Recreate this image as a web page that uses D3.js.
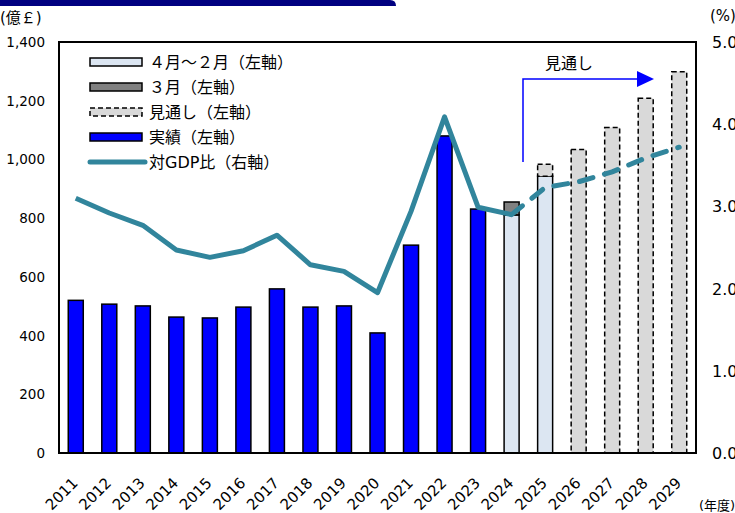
<!DOCTYPE html>
<html>
<head>
<meta charset="utf-8">
<script src="https://cdn.jsdelivr.net/npm/d3@7"></script>
<style>
  body { margin: 0; background: #fff; }
  text { font-family: "DejaVu Sans", "Noto Sans CJK JP", sans-serif; }
</style>
</head>
<body>
<script>
let w = 735;
let h = 513;

let years = ["2011","2012","2013","2014","2015","2016","2017","2018","2019","2020",
             "2021","2022","2023","2024","2025","2026","2027","2028","2029"];
// 実績
let actual = [520, 507, 501, 463, 460, 497, 559, 497, 501, 409, 708, 1080, 831,
              null, null, null, null, null, null];
// 4月～2月
let aprFeb = [null, null, null, null, null, null, null, null, null, null, null, null, null,
              811, 943, null, null, null, null];
// 3月
let march = [null, null, null, null, null, null, null, null, null, null, null, null, null,
             44, null, null, null, null, null];
// 見通し
let outlook = [null, null, null, null, null, null, null, null, null, null, null, null, null,
               null, 41, 1034, 1109, 1208, 1299];
// 対GDP比 (%)
let gdpRatio = [3.10, 2.92, 2.77, 2.47, 2.38, 2.46, 2.65, 2.29, 2.21, 1.95,
                2.94, 4.09, 2.99, 2.90, 3.23, 3.30, 3.42, 3.59, 3.72];
let leftTicks = [0, 200, 400, 600, 800, 1000, 1200, 1400];
let rightTicks = [0, 1, 2, 3, 4, 5];

let m = { left: 59, right: 696, top: 42, bottom: 453 };

let svg = d3.select("body").append("svg").attr("width", w).attr("height", h);

let x = d3.scaleBand().domain(years).range([m.left, m.right]);
let y = d3.scaleLinear().domain([0, 1400]).range([m.bottom, m.top]);
let y2 = d3.scaleLinear().domain([0, 5]).range([m.bottom, m.top]);
let bw = 15;
let bx = d => x(d) + x.bandwidth() / 2 - bw / 2;

// title bar
svg.append("path")
  .attr("d", "M0,0 H390 Q396,0 396,6 H0 Z")
  .attr("fill", "#000080");

// stacked segments
let segs = [];
years.forEach((yr, i) => {
  let base = 0;
  [[actual, "actual"], [aprFeb, "aprFeb"], [march, "march"], [outlook, "outlook"]].forEach(([arr, k]) => {
    if (arr[i] != null) {
      segs.push({ yr, k, y0: base, y1: base + arr[i] });
      base += arr[i];
    }
  });
});

let style = {
  actual:  { fill: "#0000FF", stroke: "#000", dash: null },
  aprFeb:  { fill: "#DCE6F2", stroke: "#000", dash: null },
  march:   { fill: "#808080", stroke: "#000", dash: null },
  outlook: { fill: "#D9D9D9", stroke: "#000", dash: "5,3" },
};

svg.selectAll("rect.bar")
  .data(segs)
  .enter()
  .append("rect")
  .attr("class", "bar")
  .attr("x", d => bx(d.yr))
  .attr("width", bw)
  .attr("y", d => y(d.y1))
  .attr("height", d => y(d.y0) - y(d.y1))
  .attr("fill", d => style[d.k].fill)
  .attr("stroke", d => style[d.k].stroke)
  .attr("stroke-width", 1.5)
  .attr("stroke-dasharray", d => style[d.k].dash);

// GDP ratio line
let cx = d => x(d) + x.bandwidth() / 2;
let line = d3.line().x(d => cx(d.yr)).y(d => y2(d.v));
let pts = years.map((yr, i) => ({ yr, v: gdpRatio[i] }));
let split = years.indexOf("2024");

svg.append("path")
  .datum(pts.slice(0, split + 1))
  .attr("d", line)
  .attr("fill", "none")
  .attr("stroke", "#31859C")
  .attr("stroke-width", 5)
  .attr("stroke-linejoin", "round");

svg.append("path")
  .datum(pts.slice(split))
  .attr("d", line)
  .attr("fill", "none")
  .attr("stroke", "#31859C")
  .attr("stroke-width", 5)
  .attr("stroke-linecap", "round")
  .attr("stroke-dasharray", "14,12");

// plot frame
svg.append("rect")
  .attr("x", m.left).attr("y", m.top)
  .attr("width", m.right - m.left).attr("height", m.bottom - m.top)
  .attr("fill", "none").attr("stroke", "#000").attr("stroke-width", 2);

// left axis
svg.selectAll("text.yl")
  .data(leftTicks)
  .enter()
  .append("text")
  .attr("class", "yl")
  .attr("x", 45)
  .attr("y", d => y(d) + 5)
  .attr("text-anchor", "end")
  .attr("font-size", 13.5)
  .text(d => d3.format(",")(d));

// right axis (cut off at the page edge, as in the original)
svg.selectAll("text.yr")
  .data(rightTicks)
  .enter()
  .append("text")
  .attr("class", "yr")
  .attr("x", 712)
  .attr("y", d => y2(d) + 6)
  .attr("font-size", 16)
  .text(d => d.toFixed(1));

svg.append("text").attr("x", 0).attr("y", 23).attr("font-size", 15).text("(億￡)");
svg.append("text").attr("x", 710).attr("y", 21).attr("font-size", 15).text("(%)");
svg.append("text").attr("x", 699).attr("y", 510).attr("font-size", 13).text("(年度)");

// x labels
svg.selectAll("text.xl")
  .data(years)
  .enter()
  .append("text")
  .attr("class", "xl")
  .attr("transform", d => `translate(${cx(d) + 3},${m.bottom + 31}) rotate(-45)`)
  .attr("text-anchor", "end")
  .attr("font-size", 15)
  .text(d => d);

// outlook annotation
svg.append("path")
  .attr("d", "M523,162 V79 H638")
  .attr("fill", "none")
  .attr("stroke", "#0000FF")
  .attr("stroke-width", 1.5);
svg.append("path")
  .attr("d", "M637,71 L654,79 L637,87 Z")
  .attr("fill", "#0000FF");
svg.append("text").attr("x", 545).attr("y", 69).attr("font-size", 16).text("見通し");

// legend
let legend = [
  { label: "４月～２月（左軸）", k: "aprFeb" },
  { label: "３月（左軸）", k: "march" },
  { label: "見通し（左軸）", k: "outlook" },
  { label: "実績（左軸）", k: "actual" },
  { label: "対GDP比（右軸）", k: "line" },
];
let lg = svg.append("g");
lg.append("rect").attr("x", 62).attr("y", 44).attr("width", 250).attr("height", 135).attr("fill", "#fff");
let items = lg.selectAll("g.item")
  .data(legend)
  .enter()
  .append("g")
  .attr("transform", (d, i) => `translate(0,${62 + i * 25})`);
items.filter(d => d.k !== "line")
  .append("rect")
  .attr("x", 90).attr("y", -4).attr("width", 52).attr("height", 8)
  .attr("fill", d => style[d.k].fill)
  .attr("stroke", "#000")
  .attr("stroke-width", 1.5)
  .attr("stroke-dasharray", d => style[d.k].dash);
items.filter(d => d.k === "line")
  .append("line")
  .attr("x1", 90).attr("x2", 145).attr("y1", 0).attr("y2", 0)
  .attr("stroke", "#31859C").attr("stroke-width", 5).attr("stroke-linecap", "round");
items.append("text")
  .attr("x", 149)
  .attr("y", 6)
  .attr("font-size", 16)
  .text(d => d.label);
</script>
</body>
</html>
